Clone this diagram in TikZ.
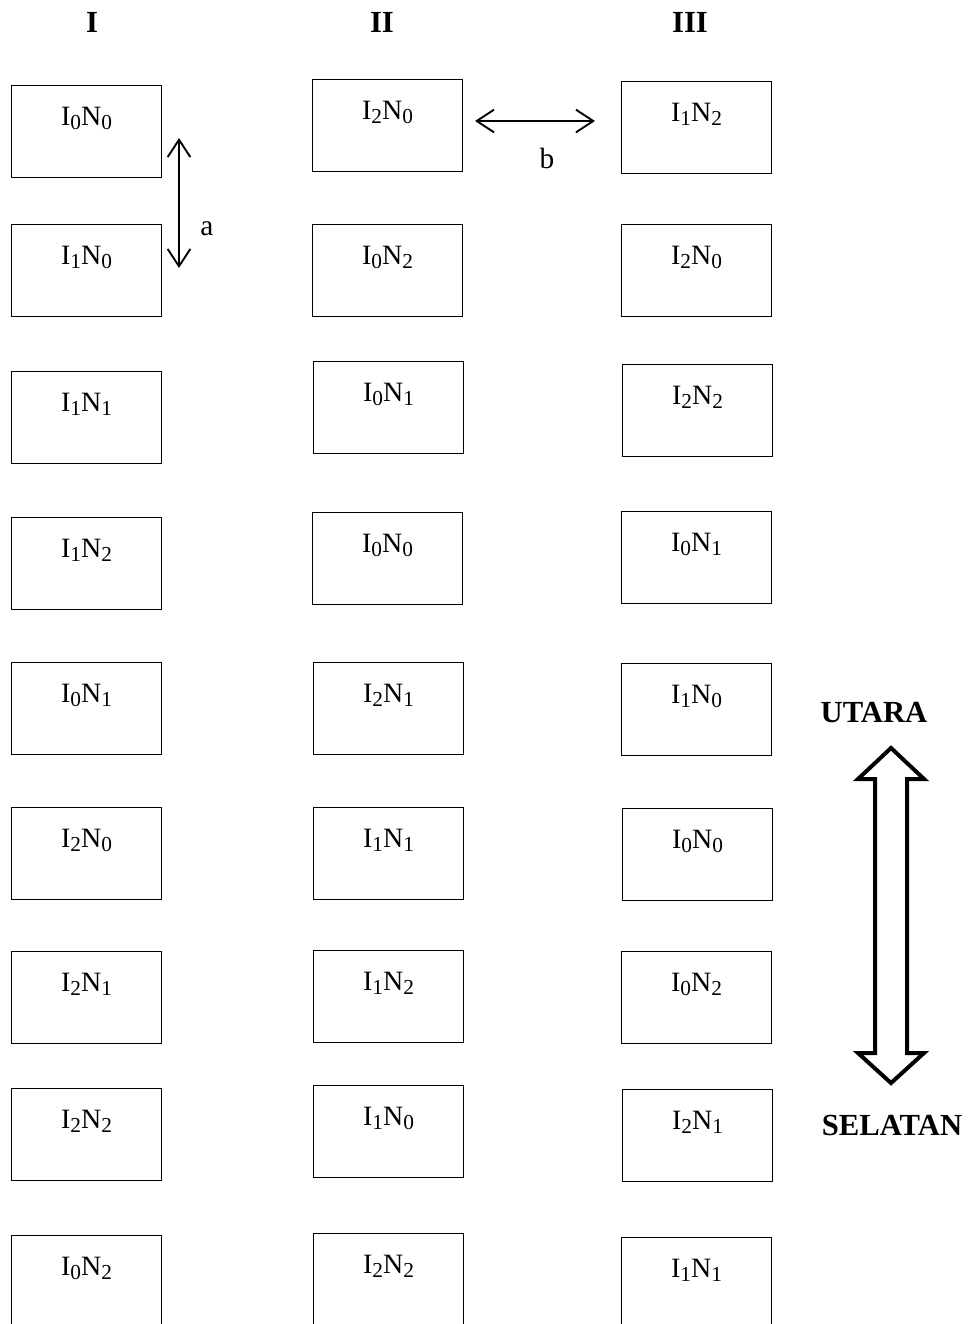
\documentclass[tikz,border=0pt]{standalone}
\usepackage{fontspec}
\setmainfont{Liberation Serif}
\usetikzlibrary{arrows.meta}
\tikzset{
  px/.style={x=0.75pt,y=-0.75pt},
  cell/.style={draw,line width=0.8pt,minimum width=112.5pt,minimum height=69pt,inner sep=0pt,anchor=north west},
  celltext/.style={font=\fontsize{21}{23}\selectfont,anchor=center,yshift=-25pt},
  head/.style={font=\fontsize{23}{25}\selectfont\bfseries},
  lab/.style={font=\fontsize{22}{24}\selectfont},
  thin arrow/.style={line width=1.5pt,{Straight Barb[length=13pt,width=17pt,line width=1.4pt]}-{Straight Barb[length=13pt,width=17pt,line width=1.4pt]}},
}
\newcommand{\sbx}[1]{\raisebox{-3.5pt}{\fontsize{16}{16}\selectfont #1}}
\newcommand{\IN}[2]{I\sbx{#1}N\sbx{#2}}
\newcommand{\cellbox}[5]{\node[cell,label={[celltext]north:\IN{#4}{#5}}] (#1) at (#2,#3) {};}
\begin{document}
\begin{tikzpicture}[px]
\useasboundingbox (0,0) rectangle (974,1324);
\clip (0,0) rectangle (974,1324);
% headers
\node[head] (hI) at (92,22) {I};
\node[head] (hII) at (382,22) {II};
\node[head] (hIII) at (690,22) {III};
% column I
\cellbox{a1}{11}{85}{0}{0}
\cellbox{a2}{11}{224}{1}{0}
\cellbox{a3}{11}{371}{1}{1}
\cellbox{a4}{11}{517}{1}{2}
\cellbox{a5}{11}{662}{0}{1}
\cellbox{a6}{11}{807}{2}{0}
\cellbox{a7}{11}{951}{2}{1}
\cellbox{a8}{11}{1088}{2}{2}
\cellbox{a9}{11}{1235}{0}{2}
% column II
\cellbox{b1}{312}{79}{2}{0}
\cellbox{b2}{312}{224}{0}{2}
\cellbox{b3}{313}{361}{0}{1}
\cellbox{b4}{312}{512}{0}{0}
\cellbox{b5}{313}{662}{2}{1}
\cellbox{b6}{313}{807}{1}{1}
\cellbox{b7}{313}{950}{1}{2}
\cellbox{b8}{313}{1085}{1}{0}
\cellbox{b9}{313}{1233}{2}{2}
% column III
\cellbox{c1}{621}{81}{1}{2}
\cellbox{c2}{621}{224}{2}{0}
\cellbox{c3}{622}{364}{2}{2}
\cellbox{c4}{621}{511}{0}{1}
\cellbox{c5}{621}{663}{1}{0}
\cellbox{c6}{622}{808}{0}{0}
\cellbox{c7}{621}{951}{0}{2}
\cellbox{c8}{622}{1089}{2}{1}
\cellbox{c9}{621}{1237}{1}{1}
% arrow a
\coordinate (aT) at (179,138);
\coordinate (aB) at (179,268);
\draw[thin arrow] (aT) -- (aB);
\node[lab] (la) at (207,229) {a};
% arrow b
\coordinate (bL) at (475,121);
\coordinate (bR) at (595,121);
\draw[thin arrow] (bL) -- (bR);
\node[lab] (lb) at (547,158) {b};
% big double arrow
\draw[line width=3pt,fill=white,line join=miter]
  (891,748) -- (924,779) -- (907,779) -- (907,1053) -- (924,1053) -- (891,1083)
  -- (858,1053) -- (875,1053) -- (875,779) -- (858,779) -- cycle;
\node[head] (ut) at (874,713) {UTARA};
\node[head] (sel) at (892,1125) {SELATAN};
\end{tikzpicture}
\end{document}
